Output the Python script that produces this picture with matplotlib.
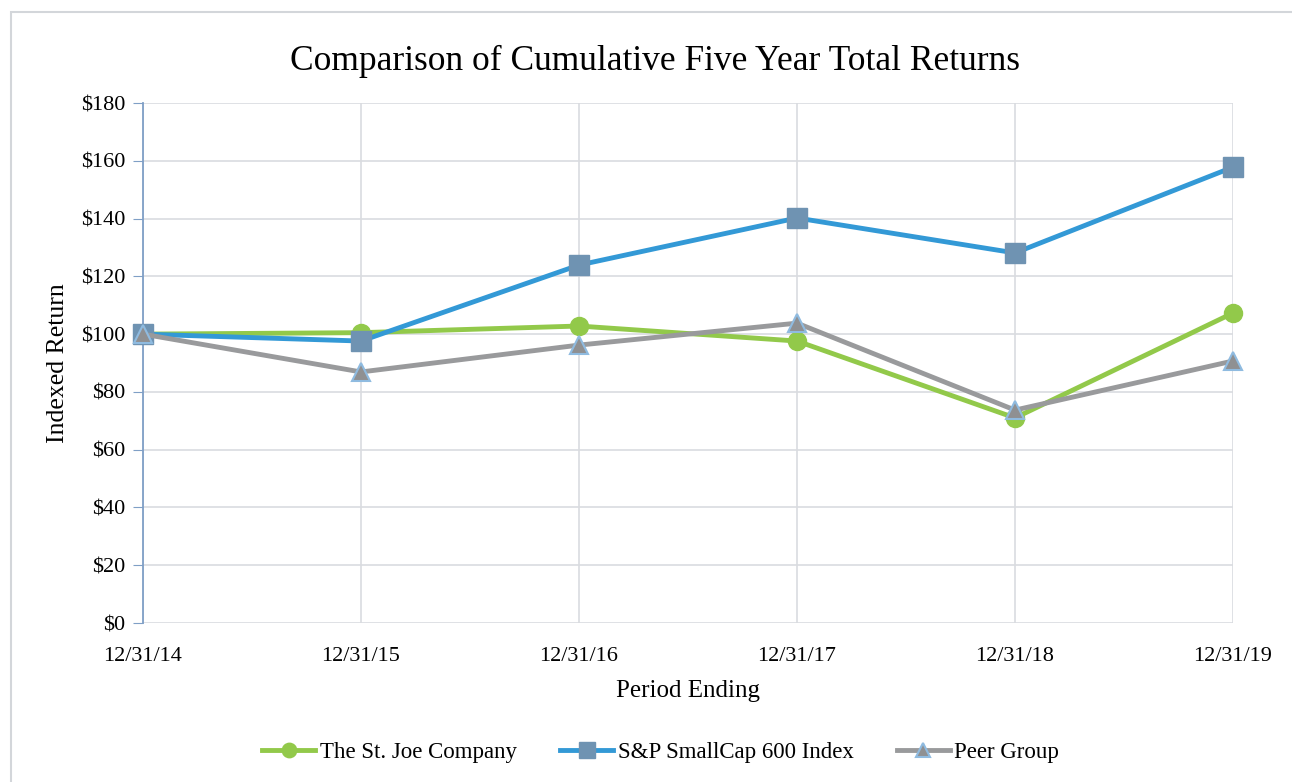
import matplotlib
matplotlib.use('Agg')
import matplotlib.pyplot as plt
from matplotlib.patches import Rectangle

# data
periods = ['12/31/14', '12/31/15', '12/31/16', '12/31/17', '12/31/18', '12/31/19']
st_joe = [100.0, 100.5, 102.8, 97.6, 71.0, 107.3]
sp600 = [100.0, 97.6, 123.9, 140.2, 128.1, 157.8]
peer = [100.0, 86.9, 96.2, 103.8, 73.7, 90.7]
yticks = [0, 20, 40, 60, 80, 100, 120, 140, 160, 180]

plt.rcParams['font.family'] = ['Liberation Serif', 'DejaVu Serif']

fig = plt.figure(figsize=(12.92, 7.82), dpi=100)
# outer chart border (cut off at right/bottom)
fig.patches.append(Rectangle((11/1292, -0.1), 1.2, 1 - 12/782 + 0.1,
                             transform=fig.transFigure, fill=False,
                             edgecolor='#d3d6da', linewidth=1.5))

ax = fig.add_axes([143/1292, 1 - 623/782, (1233 - 143)/1292, (623 - 103)/782])
x = list(range(len(periods)))

ax.plot(x, st_joe, color='#92c94a', linewidth=3.5, marker='o', markersize=13,
        markerfacecolor='#92c94a', markeredgecolor='#92c94a',
        label='The St. Joe Company', zorder=3, clip_on=False)
ax.plot(x, sp600, color='#3399d6', linewidth=3.5, marker='s', markersize=14,
        markerfacecolor='#6f93b2', markeredgecolor='#6f93b2',
        label='S&P SmallCap 600 Index', zorder=4, clip_on=False)
ax.plot(x, peer, color='#999a9c', linewidth=3.5, marker='^', markersize=13,
        markerfacecolor='#8f9092', markeredgecolor='#8fbbe0', markeredgewidth=1.5,
        label='Peer Group', zorder=5, clip_on=False)

ax.set_xlim(0, len(periods) - 1)
ax.set_ylim(0, 180)
ax.set_xticks(x)
ax.set_xticklabels(periods)
ax.set_yticks(yticks)
ax.set_yticklabels(['$' + str(v) for v in yticks])
ax.tick_params(axis='both', labelsize=16, colors='black')
ax.tick_params(axis='x', length=0, pad=17)
ax.tick_params(axis='y', length=7, color='#7f9fc6', pad=6)

ax.grid(True, color='#d9dbe0', linewidth=1.2)
ax.set_axisbelow(True)
for s in ['top', 'right', 'bottom']:
    ax.spines[s].set_visible(False)
ax.spines['left'].set_color('#7f9fc6')
ax.spines['left'].set_linewidth(1.3)

ax.set_title('Comparison of Cumulative Five Year Total Returns', fontsize=25.5, pad=24,
             x=(655 - 143) / 1090)
ax.set_xlabel('Period Ending', fontsize=18, labelpad=10)
ax.set_ylabel('Indexed Return', fontsize=18.5, labelpad=8)

ax.legend(loc='upper center', bbox_to_anchor=(0.475, -0.19), ncol=3, frameon=False,
          fontsize=16.5, handlelength=2.3, columnspacing=1.9, handletextpad=0.2,
          markerscale=0.8)

fig.savefig('out.png', dpi=100, facecolor='white')
